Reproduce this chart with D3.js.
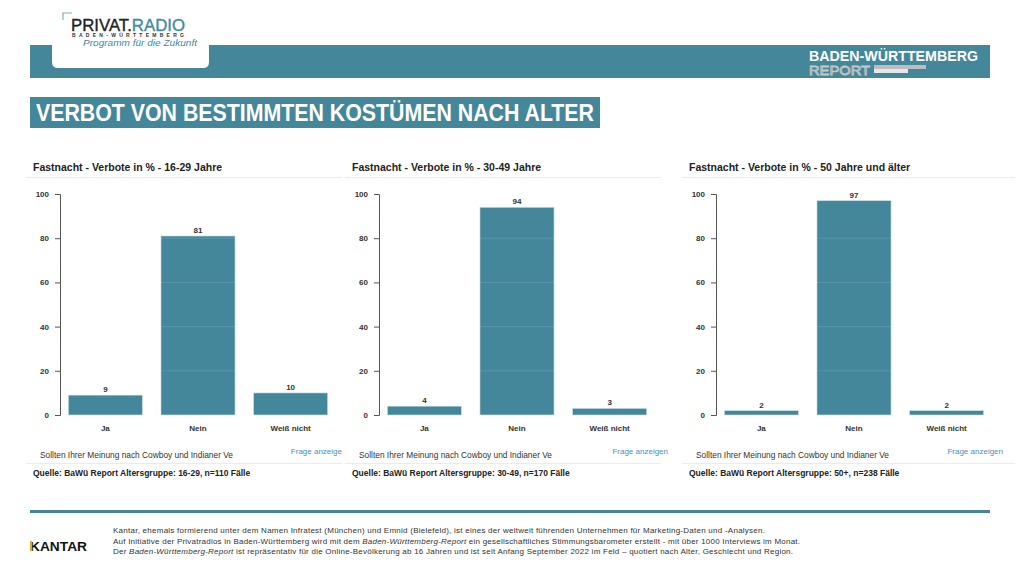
<!DOCTYPE html>
<html>
<head>
<meta charset="utf-8">
<script src="https://cdn.jsdelivr.net/npm/d3@7"></script>
<style>
  body { margin: 0; background: #fff; }
  svg { display: block; font-family: "Liberation Sans", Arial, sans-serif; }
</style>
</head>
<body>
<div id="chart"></div>
<script>
const categories = ["Ja", "Nein", "Weiß nicht"];
const values1629 = [9, 81, 10];
const values3049 = [4, 94, 3];
const values50 = [2, 97, 2];
const panelTitles = [
    "Fastnacht - Verbote in % - 16-29 Jahre",
    "Fastnacht - Verbote in % - 30-49 Jahre",
    "Fastnacht - Verbote in % - 50 Jahre und älter"
];
const sources = [
    "Quelle: BaWü Report Altersgruppe: 16-29, n=110 Fälle",
    "Quelle: BaWü Report Altersgruppe: 30-49, n=170 Fälle",
    "Quelle: BaWü Report Altersgruppe: 50+, n=238 Fälle"
];
const frageLabels = ["Frage anzeige", "Frage anzeigen", "Frage anzeigen"];
const questionText = "Sollten Ihrer Meinung nach Cowboy und Indianer Ve";
const yTicks = [0, 20, 40, 60, 80, 100];

const width = 1019;
const height = 573;
const teal = "#44879b";

let svg = d3.select("#chart")
    .append("svg")
    .attr("width", width)
    .attr("height", height);

// ---- header ----
svg.append("rect")
    .attr("x", 30).attr("y", 45)
    .attr("width", 960).attr("height", 33)
    .attr("fill", teal);

svg.append("path")
    .attr("d", "M52,10 H209 V62 Q209,68 203,68 H58 Q52,68 52,62 Z")
    .attr("fill", "#fff");

svg.append("path")
    .attr("d", "M63,20 V13 H72")
    .attr("fill", "none")
    .attr("stroke", "#7fb0c0")
    .attr("stroke-width", 1.2);

let logo = svg.append("text")
    .attr("x", 71).attr("y", 30.5)
    .style("font-size", "16px")
    .attr("stroke-width", 0.35)
    .attr("textLength", 114)
    .attr("lengthAdjust", "spacingAndGlyphs");
logo.append("tspan").attr("fill", "#222").attr("stroke", "#222").text("PRIVAT.");
logo.append("tspan").attr("fill", "#3f8aa2").attr("stroke", "#3f8aa2").text("RADIO");

svg.append("text")
    .attr("x", 72).attr("y", 37)
    .style("font-size", "5px")
    .style("font-weight", "bold")
    .attr("fill", "#333")
    .attr("textLength", 112)
    .attr("lengthAdjust", "spacing")
    .text("BADEN-WÜRTTEMBERG");

svg.append("text")
    .attr("x", 83).attr("y", 45.5)
    .style("font-size", "9.5px")
    .style("font-style", "italic")
    .attr("fill", "#3f8aa2")
    .attr("textLength", 114)
    .attr("lengthAdjust", "spacingAndGlyphs")
    .text("Programm für die Zukunft");

svg.append("text")
    .attr("x", 809).attr("y", 60.5)
    .style("font-size", "14.5px")
    .style("font-weight", "bold")
    .attr("fill", "#fff")
    .attr("textLength", 169)
    .attr("lengthAdjust", "spacingAndGlyphs")
    .text("BADEN-WÜRTTEMBERG");

svg.append("text")
    .attr("x", 809).attr("y", 74.5)
    .style("font-size", "13px")
    .attr("fill", "#5f98aa")
    .attr("stroke", "#c9c9c9")
    .attr("stroke-width", 0.8)
    .attr("textLength", 61)
    .attr("lengthAdjust", "spacingAndGlyphs")
    .text("REPORT");

svg.append("rect").attr("x", 874).attr("y", 65).attr("width", 52).attr("height", 4).attr("fill", "#bdbdbd");
svg.append("rect").attr("x", 874).attr("y", 69).attr("width", 34).attr("height", 4).attr("fill", "#e6e6e6");

// ---- main title ----
svg.append("rect")
    .attr("x", 30).attr("y", 97)
    .attr("width", 570).attr("height", 31)
    .attr("fill", teal);

svg.append("text")
    .attr("x", 36).attr("y", 121)
    .style("font-size", "23px")
    .style("font-weight", "bold")
    .attr("fill", "#fff")
    .attr("textLength", 558)
    .attr("lengthAdjust", "spacingAndGlyphs")
    .text("VERBOT VON BESTIMMTEN KOSTÜMEN NACH ALTER");

// ---- panels ----
const panels = [
    {values: values1629, dx: 0},
    {values: values3049, dx: 319},
    {values: values50, dx: 656}
];

const y = d3.scaleLinear()
    .domain([0, 100])
    .range([415, 194]);

panels.forEach((p, i) => {
    let g = svg.append("g").attr("transform", `translate(${p.dx},0)`);

    g.append("text")
        .attr("x", 33).attr("y", 171)
        .style("font-size", "10.5px")
        .style("font-weight", "bold")
        .attr("fill", "#222")
        .text(panelTitles[i]);

    g.append("line")
        .attr("x1", 26).attr("x2", i === 2 ? 359 : 342)
        .attr("y1", 177.5).attr("y2", 177.5)
        .attr("stroke", "#ebebeb");

    let x = d3.scaleBand()
        .domain(categories)
        .range([60, 336])
        .paddingInner(0.2)
        .paddingOuter(0.09);

    let yAxis = g.append("g")
        .attr("transform", "translate(60,0)")
        .call(d3.axisLeft(y).tickValues(yTicks).tickSize(5).tickPadding(6));
    yAxis.select(".domain").attr("stroke", "#555").attr("d", "M-5,194.5H0.5V415.5H-5");
    yAxis.selectAll(".tick line").attr("stroke", "#555");
    yAxis.selectAll(".tick text")
        .style("font-size", "8px")
        .style("font-weight", "bold")
        .attr("fill", "#333");

    g.selectAll(".bar")
        .data(p.values)
        .enter()
        .append("rect")
        .attr("class", "bar")
        .attr("x", (d, j) => x(categories[j]))
        .attr("y", d => y(d))
        .attr("width", x.bandwidth())
        .attr("height", d => y(0) - y(d))
        .attr("fill", teal)
        .attr("stroke", "#cfe3ea")
        .attr("stroke-width", 0.6);

    // faint gridlines, only visible over the bars
    g.selectAll(".grid")
        .data(yTicks.slice(1, -1))
        .enter()
        .append("line")
        .attr("x1", 61).attr("x2", 336)
        .attr("y1", d => y(d)).attr("y2", d => y(d))
        .attr("stroke", "#fff")
        .attr("stroke-opacity", 0.12);

    g.selectAll(".val")
        .data(p.values)
        .enter()
        .append("text")
        .attr("x", (d, j) => x(categories[j]) + x.bandwidth() / 2)
        .attr("y", d => y(d) - 3)
        .attr("text-anchor", "middle")
        .style("font-size", "8px")
        .style("font-weight", "bold")
        .attr("fill", "#333")
        .text(d => d);

    g.selectAll(".cat")
        .data(categories)
        .enter()
        .append("text")
        .attr("x", d => x(d) + x.bandwidth() / 2)
        .attr("y", 431)
        .attr("text-anchor", "middle")
        .style("font-size", "8px")
        .style("font-weight", "bold")
        .attr("fill", "#333")
        .text(d => d);

    g.append("text")
        .attr("x", 40).attr("y", 458)
        .style("font-size", "8.3px")
        .attr("fill", "#333")
        .attr("textLength", 193)
        .attr("lengthAdjust", "spacingAndGlyphs")
        .text(questionText);

    g.append("text")
        .attr("x", 342 + (i === 0 ? 0 : i === 1 ? 7 : 5)).attr("y", 454)
        .attr("text-anchor", "end")
        .style("font-size", "8px")
        .attr("fill", "#4a8ec6")
        .text(frageLabels[i]);

    g.append("line")
        .attr("x1", 26).attr("x2", i === 2 ? 359 : 342)
        .attr("y1", 463.5).attr("y2", 463.5)
        .attr("stroke", "#ebebeb");

    g.append("text")
        .attr("x", 33).attr("y", 476)
        .style("font-size", "8.5px")
        .style("font-weight", "bold")
        .attr("fill", "#222")
        .text(sources[i]);
});

// ---- footer ----
svg.append("rect")
    .attr("x", 30).attr("y", 510)
    .attr("width", 960).attr("height", 3)
    .attr("fill", teal);

svg.append("text")
    .attr("x", 30).attr("y", 551)
    .style("font-size", "13.5px")
    .style("font-weight", "bold")
    .attr("fill", "#111")
    .attr("textLength", 57)
    .attr("lengthAdjust", "spacingAndGlyphs")
    .text("KANTAR");
svg.append("rect").attr("x", 30).attr("y", 541).attr("width", 2.2).attr("height", 10).attr("fill", "#e0a82e");

const footerLines = [
    [["Kantar, ehemals formierend unter dem Namen Infratest (München) und Emnid  (Bielefeld), ist eines der weltweit führenden Unternehmen für Marketing-Daten und -Analysen.", false]],
    [["Auf Initiative der Privatradios in Baden-Württemberg wird mit dem ", false], ["Baden-Württemberg-Report", true], [" ein gesellschaftliches Stimmungsbarometer erstellt - mit über 1000 Interviews im Monat.", false]],
    [["Der ", false], ["Baden-Württemberg-Report", true], [" ist repräsentativ für die Online-Bevölkerung ab 16 Jahren und ist seit Anfang September 2022 im Feld – quotiert nach Alter, Geschlecht und Region.", false]]
];
const footerEnds = [765, 800, 793];

footerLines.forEach((segs, i) => {
    let t = svg.append("text")
        .attr("x", 113).attr("y", 533 + i * 10.5)
        .style("font-size", "8px")
        .attr("fill", "#333")
        .attr("textLength", footerEnds[i] - 113)
        .attr("lengthAdjust", "spacing");
    segs.forEach(s => {
        t.append("tspan")
            .style("font-style", s[1] ? "italic" : "normal")
            .text(s[0]);
    });
});
</script>
</body>
</html>
